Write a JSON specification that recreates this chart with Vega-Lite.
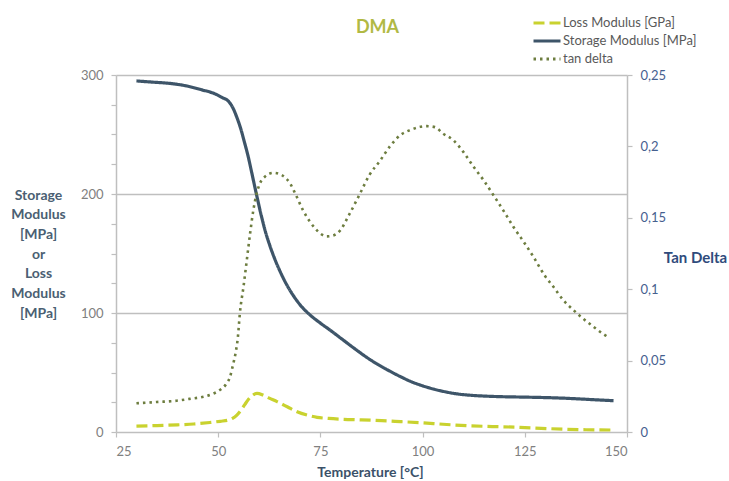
{
  "$schema": "https://vega.github.io/schema/vega-lite/v6.json",
  "width": 511,
  "height": 357,
  "autosize": {"type": "none"},
  "padding": {"left": 116, "top": 75, "right": 102, "bottom": 49},
  "config": {"view": {"stroke": null}, "font": "Lato"},
  "title": {"text": "DMA", "font": "Lato", "fontSize": 18, "fontWeight": "bold", "color": "#b1b944", "anchor": "middle", "dx": 6, "dy": 14, "offset": -22, "baseline": "alphabetic"},
  "data": {"values": [
    {"s": "Storage Modulus [MPa]", "t": 30, "v": 295},
    {"s": "Storage Modulus [MPa]", "t": 34, "v": 294},
    {"s": "Storage Modulus [MPa]", "t": 38, "v": 293},
    {"s": "Storage Modulus [MPa]", "t": 42, "v": 291},
    {"s": "Storage Modulus [MPa]", "t": 46, "v": 287.5},
    {"s": "Storage Modulus [MPa]", "t": 49, "v": 284.5},
    {"s": "Storage Modulus [MPa]", "t": 51, "v": 281},
    {"s": "Storage Modulus [MPa]", "t": 52.5, "v": 278},
    {"s": "Storage Modulus [MPa]", "t": 53.5, "v": 273},
    {"s": "Storage Modulus [MPa]", "t": 54.5, "v": 265},
    {"s": "Storage Modulus [MPa]", "t": 55.5, "v": 255},
    {"s": "Storage Modulus [MPa]", "t": 56.5, "v": 242.5},
    {"s": "Storage Modulus [MPa]", "t": 57.3, "v": 232},
    {"s": "Storage Modulus [MPa]", "t": 58.2, "v": 218},
    {"s": "Storage Modulus [MPa]", "t": 59.4, "v": 199},
    {"s": "Storage Modulus [MPa]", "t": 60.6, "v": 181},
    {"s": "Storage Modulus [MPa]", "t": 61.5, "v": 169},
    {"s": "Storage Modulus [MPa]", "t": 62.7, "v": 156},
    {"s": "Storage Modulus [MPa]", "t": 64, "v": 144},
    {"s": "Storage Modulus [MPa]", "t": 65.2, "v": 134.5},
    {"s": "Storage Modulus [MPa]", "t": 66.8, "v": 123.5},
    {"s": "Storage Modulus [MPa]", "t": 68.4, "v": 114.5},
    {"s": "Storage Modulus [MPa]", "t": 70, "v": 107},
    {"s": "Storage Modulus [MPa]", "t": 72.1, "v": 99.5},
    {"s": "Storage Modulus [MPa]", "t": 75, "v": 91.5},
    {"s": "Storage Modulus [MPa]", "t": 77.5, "v": 85.3},
    {"s": "Storage Modulus [MPa]", "t": 80, "v": 78.8},
    {"s": "Storage Modulus [MPa]", "t": 83, "v": 71},
    {"s": "Storage Modulus [MPa]", "t": 87.3, "v": 60.5},
    {"s": "Storage Modulus [MPa]", "t": 91, "v": 53},
    {"s": "Storage Modulus [MPa]", "t": 94.6, "v": 46.5},
    {"s": "Storage Modulus [MPa]", "t": 97, "v": 42.6},
    {"s": "Storage Modulus [MPa]", "t": 99.5, "v": 39.4},
    {"s": "Storage Modulus [MPa]", "t": 102.8, "v": 36},
    {"s": "Storage Modulus [MPa]", "t": 105.5, "v": 33.8},
    {"s": "Storage Modulus [MPa]", "t": 108.5, "v": 32},
    {"s": "Storage Modulus [MPa]", "t": 112, "v": 30.8},
    {"s": "Storage Modulus [MPa]", "t": 115, "v": 30.2},
    {"s": "Storage Modulus [MPa]", "t": 119.1, "v": 29.7},
    {"s": "Storage Modulus [MPa]", "t": 125, "v": 29.3},
    {"s": "Storage Modulus [MPa]", "t": 131.4, "v": 28.8},
    {"s": "Storage Modulus [MPa]", "t": 136, "v": 28.2},
    {"s": "Storage Modulus [MPa]", "t": 141, "v": 27.3},
    {"s": "Storage Modulus [MPa]", "t": 146.7, "v": 26.3},
    {"s": "Loss Modulus [GPa]", "t": 30, "v": 5},
    {"s": "Loss Modulus [GPa]", "t": 35, "v": 5.4},
    {"s": "Loss Modulus [GPa]", "t": 40, "v": 6},
    {"s": "Loss Modulus [GPa]", "t": 44, "v": 6.7},
    {"s": "Loss Modulus [GPa]", "t": 48, "v": 8},
    {"s": "Loss Modulus [GPa]", "t": 50.5, "v": 9},
    {"s": "Loss Modulus [GPa]", "t": 52.5, "v": 10},
    {"s": "Loss Modulus [GPa]", "t": 53.5, "v": 11.5},
    {"s": "Loss Modulus [GPa]", "t": 54.5, "v": 14},
    {"s": "Loss Modulus [GPa]", "t": 55.5, "v": 18},
    {"s": "Loss Modulus [GPa]", "t": 56.5, "v": 23},
    {"s": "Loss Modulus [GPa]", "t": 57.3, "v": 27},
    {"s": "Loss Modulus [GPa]", "t": 58.3, "v": 30.5},
    {"s": "Loss Modulus [GPa]", "t": 59.5, "v": 32.5},
    {"s": "Loss Modulus [GPa]", "t": 61, "v": 31},
    {"s": "Loss Modulus [GPa]", "t": 62.5, "v": 28.5},
    {"s": "Loss Modulus [GPa]", "t": 64.4, "v": 25.5},
    {"s": "Loss Modulus [GPa]", "t": 67, "v": 21},
    {"s": "Loss Modulus [GPa]", "t": 69.3, "v": 17},
    {"s": "Loss Modulus [GPa]", "t": 72, "v": 14},
    {"s": "Loss Modulus [GPa]", "t": 74.2, "v": 12.3},
    {"s": "Loss Modulus [GPa]", "t": 77, "v": 11.4},
    {"s": "Loss Modulus [GPa]", "t": 80.6, "v": 10.7},
    {"s": "Loss Modulus [GPa]", "t": 85, "v": 10.2},
    {"s": "Loss Modulus [GPa]", "t": 90, "v": 9.5},
    {"s": "Loss Modulus [GPa]", "t": 94.6, "v": 8.7},
    {"s": "Loss Modulus [GPa]", "t": 100, "v": 7.7},
    {"s": "Loss Modulus [GPa]", "t": 105, "v": 6.5},
    {"s": "Loss Modulus [GPa]", "t": 110.9, "v": 5.3},
    {"s": "Loss Modulus [GPa]", "t": 117, "v": 4.6},
    {"s": "Loss Modulus [GPa]", "t": 123.2, "v": 4},
    {"s": "Loss Modulus [GPa]", "t": 129, "v": 3.1},
    {"s": "Loss Modulus [GPa]", "t": 135.4, "v": 2.2},
    {"s": "Loss Modulus [GPa]", "t": 140, "v": 1.9},
    {"s": "Loss Modulus [GPa]", "t": 146, "v": 1.7},
    {"s": "tan delta", "t": 30, "v": 0.0201},
    {"s": "tan delta", "t": 35, "v": 0.021},
    {"s": "tan delta", "t": 39.8, "v": 0.0219},
    {"s": "tan delta", "t": 43, "v": 0.0232},
    {"s": "tan delta", "t": 46.4, "v": 0.0247},
    {"s": "tan delta", "t": 48.5, "v": 0.0265},
    {"s": "tan delta", "t": 50.4, "v": 0.0294},
    {"s": "tan delta", "t": 51.8, "v": 0.033},
    {"s": "tan delta", "t": 52.9, "v": 0.0387},
    {"s": "tan delta", "t": 53.7, "v": 0.048},
    {"s": "tan delta", "t": 54.3, "v": 0.056},
    {"s": "tan delta", "t": 54.8, "v": 0.066},
    {"s": "tan delta", "t": 55.3, "v": 0.0831},
    {"s": "tan delta", "t": 56.2, "v": 0.102},
    {"s": "tan delta", "t": 57, "v": 0.1204},
    {"s": "tan delta", "t": 57.8, "v": 0.139},
    {"s": "tan delta", "t": 58.6, "v": 0.1554},
    {"s": "tan delta", "t": 59.4, "v": 0.167},
    {"s": "tan delta", "t": 60.2, "v": 0.174},
    {"s": "tan delta", "t": 61.5, "v": 0.179},
    {"s": "tan delta", "t": 63.5, "v": 0.1815},
    {"s": "tan delta", "t": 65.5, "v": 0.18},
    {"s": "tan delta", "t": 67.6, "v": 0.174},
    {"s": "tan delta", "t": 69, "v": 0.166},
    {"s": "tan delta", "t": 70.8, "v": 0.155},
    {"s": "tan delta", "t": 72.5, "v": 0.147},
    {"s": "tan delta", "t": 74.1, "v": 0.1414},
    {"s": "tan delta", "t": 75.5, "v": 0.138},
    {"s": "tan delta", "t": 76.5, "v": 0.137},
    {"s": "tan delta", "t": 78, "v": 0.1375},
    {"s": "tan delta", "t": 79.8, "v": 0.141},
    {"s": "tan delta", "t": 82, "v": 0.152},
    {"s": "tan delta", "t": 84.7, "v": 0.167},
    {"s": "tan delta", "t": 87, "v": 0.18},
    {"s": "tan delta", "t": 89.6, "v": 0.19},
    {"s": "tan delta", "t": 92, "v": 0.2},
    {"s": "tan delta", "t": 94.6, "v": 0.208},
    {"s": "tan delta", "t": 97, "v": 0.2115},
    {"s": "tan delta", "t": 99.4, "v": 0.2137},
    {"s": "tan delta", "t": 101, "v": 0.2142},
    {"s": "tan delta", "t": 103, "v": 0.2135},
    {"s": "tan delta", "t": 105, "v": 0.209},
    {"s": "tan delta", "t": 107.5, "v": 0.2044},
    {"s": "tan delta", "t": 110, "v": 0.196},
    {"s": "tan delta", "t": 112.4, "v": 0.186},
    {"s": "tan delta", "t": 115, "v": 0.176},
    {"s": "tan delta", "t": 117.3, "v": 0.166},
    {"s": "tan delta", "t": 120, "v": 0.154},
    {"s": "tan delta", "t": 122.2, "v": 0.1437},
    {"s": "tan delta", "t": 125, "v": 0.132},
    {"s": "tan delta", "t": 127.1, "v": 0.1227},
    {"s": "tan delta", "t": 130, "v": 0.109},
    {"s": "tan delta", "t": 132, "v": 0.1017},
    {"s": "tan delta", "t": 134.4, "v": 0.0924},
    {"s": "tan delta", "t": 136.9, "v": 0.0854},
    {"s": "tan delta", "t": 139, "v": 0.08},
    {"s": "tan delta", "t": 141.8, "v": 0.0737},
    {"s": "tan delta", "t": 144, "v": 0.069},
    {"s": "tan delta", "t": 145.5, "v": 0.0663}
  ]},
  "encoding": {
    "x": {
      "field": "t", "type": "quantitative",
      "scale": {"domain": [25, 150], "nice": false, "zero": false},
      "axis": {
        "values": [25, 50, 75, 100, 125, 150],
        "grid": false,
        "title": "Temperature [°C]",
        "titleFont": "Lato", "titleFontSize": 14, "titleFontWeight": "bold", "titleColor": "#3b5169",
        "titleX": 254, "titleY": 40, "titleAlign": "center", "titleBaseline": "middle",
        "labelColor": "#808080", "labelFontSize": 13, "labelFont": "Lato",
        "tickSize": 5, "labelPadding": 8,
        "domainColor": "#bfbfbf", "domainWidth": 1.5, "tickColor": "#bfbfbf", "tickWidth": 1.2
      }
    },
    "color": {
      "field": "s", "type": "nominal",
      "scale": {"domain": ["Loss Modulus [GPa]", "Storage Modulus [MPa]", "tan delta"], "range": ["#c9d22f", "#3e5569", "#6d7d3f"]},
      "legend": {
        "title": null, "orient": "none", "legendX": 416, "legendY": -60.5,
        "symbolType": "stroke", "symbolSize": 324, "symbolStrokeWidth": 3,
        "labelFontSize": 13, "labelFont": "Lato", "labelColor": "#595959",
        "rowPadding": 1, "clipHeight": 17, "labelOffset": 1,
        "encode": {"symbols": {"update": {"size": {"value": 729}}}}
      }
    },
    "strokeDash": {
      "field": "s", "type": "nominal",
      "scale": {"domain": ["Loss Modulus [GPa]", "Storage Modulus [MPa]", "tan delta"], "range": [[11, 5], [1, 0], [2.5, 4]]},
      "legend": {
        "title": null, "orient": "none", "legendX": 416, "legendY": -60.5,
        "symbolType": "stroke", "symbolSize": 324, "symbolStrokeWidth": 3,
        "labelFontSize": 13, "labelFont": "Lato", "labelColor": "#595959",
        "rowPadding": 1, "clipHeight": 17, "labelOffset": 1,
        "encode": {"symbols": {"update": {"size": {"value": 729}}}}
      }
    }
  },
  "layer": [
    {
      "transform": [{"filter": "datum.s !== 'tan delta'"}],
      "mark": {"type": "line", "interpolate": "monotone", "strokeWidth": 3.2},
      "encoding": {
        "y": {
          "field": "v", "type": "quantitative",
          "scale": {"domain": [0, 300], "nice": false},
          "axis": {
            "orient": "left",
            "title": ["Storage", "Modulus", "[MPa]", "or", "Loss", "Modulus", "[MPa]"],
            "titleAngle": 0, "titleX": -78, "titleY": 120, "titleAlign": "center", "titleBaseline": "middle",
            "titleLineHeight": 19.7, "titleFont": "Lato", "titleFontSize": 14, "titleFontWeight": "bold", "titleColor": "#4b5f73",
            "values": [0, 25, 50, 75, 100, 125, 150, 175, 200, 225, 250, 275, 300],
            "labelExpr": "datum.value % 100 === 0 ? datum.label : ''",
            "grid": true, "gridColor": "#bfbfbf", "gridWidth": 1.5,
            "gridOpacity": {"condition": {"test": "datum.value % 100 === 0 && datum.value > 0", "value": 1}, "value": 0},
            "tickSize": 5, "tickColor": "#bfbfbf", "tickWidth": 1.2,
            "domainColor": "#bfbfbf", "domainWidth": 1.5,
            "labelColor": "#808080", "labelFontSize": 13, "labelFont": "Lato", "labelPadding": 8
          }
        }
      }
    },
    {
      "transform": [{"filter": "datum.s === 'tan delta'"}],
      "mark": {"type": "line", "interpolate": "monotone", "strokeWidth": 2.6},
      "encoding": {
        "y": {
          "field": "v", "type": "quantitative",
          "scale": {"domain": [0, 0.25], "nice": false},
          "axis": {
            "orient": "right",
            "title": "Tan Delta",
            "titleAngle": 0, "titleX": 68, "titleY": 182, "titleAlign": "center", "titleBaseline": "middle",
            "titleFont": "Lato", "titleFontSize": 15, "titleFontWeight": "bold", "titleColor": "#2f4b7c",
            "values": [0, 0.05, 0.1, 0.15, 0.2, 0.25],
            "labelExpr": "replace(format(datum.value, '.2~f'), '.', ',')",
            "grid": false,
            "tickSize": 5, "tickColor": "#bfbfbf", "tickWidth": 1.2,
            "domainColor": "#bfbfbf", "domainWidth": 1.5,
            "labelColor": "#46608f", "labelFontSize": 13, "labelFont": "Lato", "labelPadding": 8
          }
        }
      }
    }
  ],
  "resolve": {"scale": {"y": "independent"}}
}
